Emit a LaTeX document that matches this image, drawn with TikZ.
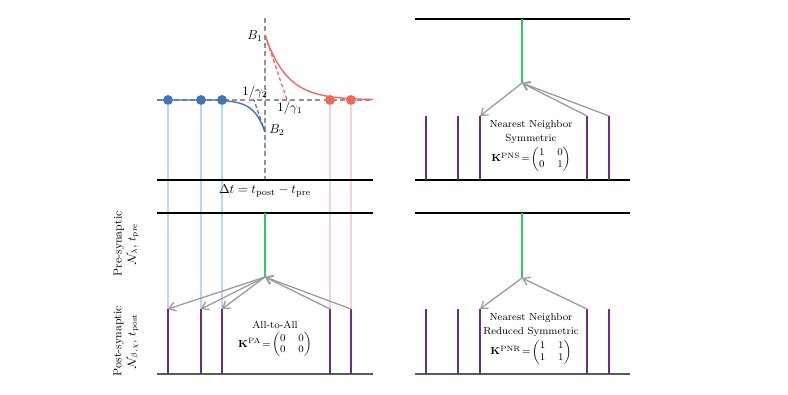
\documentclass[tikz,border=0pt]{standalone}
\usepackage{amsmath}
\usetikzlibrary{arrows.meta}
\definecolor{dotblue}{HTML}{3F74B5}
\definecolor{dotred}{HTML}{F2675C}
\definecolor{lblue}{HTML}{BCD6EF}
\definecolor{lpink}{HTML}{F8D0DA}
\definecolor{spk}{HTML}{6E2C80}
\definecolor{grn}{HTML}{2FCB5A}
\definecolor{arr}{HTML}{9A9A9A}
\definecolor{dgray}{HTML}{939393}
\newcommand{\smallmat}[4]{{\def\arraystretch{0.95}\begin{pmatrix}#1&#2\\#3&#4\end{pmatrix}}}
\begin{document}
\begin{tikzpicture}[x=0.78pt,y=-0.78pt,
  axisline/.style={black,line width=0.9pt},
  grayline/.style={black!65,line width=0.9pt},
  dashgray/.style={dgray,line width=0.9pt,dash pattern=on 4pt off 2.5pt},
  lbl/.style={lblue,line width=1pt},
  lpk/.style={lpink,line width=1pt},
  spike/.style={spk,line width=1.3pt},
  greenline/.style={grn,line width=1.3pt},
  arrowline/.style={arr,line width=1pt,-{Straight Barb[length=5pt,width=7pt]}},
  bdot/.style={circle,fill=dotblue,inner sep=0pt,minimum size=7.5pt},
  rdot/.style={circle,fill=dotred,inner sep=0pt,minimum size=7.5pt},
  boxtext/.style={font=\footnotesize,align=center,inner sep=1pt},
  sidelabel/.style={font=\small,align=center,rotate=90,inner sep=1pt}]
\useasboundingbox (0,0) rectangle (788,394);

% ---------------- top-left plot ----------------
\draw[dashgray] (157,100) -- (373,100);
\draw[dashgray] (265,18) -- (265,180);

% coordinates
\foreach \n/\x in {1/168,2/201,3/222,4/330,5/351}{
  \coordinate (ls\n) at (\x,309);
  \coordinate (lb\n) at (\x,374);
}
\foreach \n/\x in {1/426,2/458,3/480,4/587,5/609}{
  \coordinate (ts\n) at (\x,116);
  \coordinate (tb\n) at (\x,180);
  \coordinate (bs\n) at (\x,309);
  \coordinate (bb\n) at (\x,374);
}

% dots (positions)
\node[bdot] (d1) at (168,100) {};
\node[bdot] (d2) at (201,100) {};
\node[bdot] (d3) at (222,100) {};
\node[rdot] (d4) at (330,100) {};
\node[rdot] (d5) at (351,100) {};

% faint vertical lines
\draw[lbl] (d1.center) -- (ls1);
\draw[lbl] (d2.center) -- (ls2);
\draw[lbl] (d3.center) -- (ls3);
\draw[lpk] (d4.center) -- (ls4);
\draw[lpk] (d5.center) -- (ls5);

% curves
\draw[dotblue,line width=1.1pt] (157,100) -- (222,100)
  plot[domain=222:265,samples=50] (\x,{100+32*exp((\x-265)/11)});
\draw[dotred,line width=1.1pt] plot[domain=265:373,samples=70] (\x,{100-65*exp(-(\x-265)/22)});
\draw[dotblue,line width=1pt,dash pattern=on 3pt off 2pt] (265,132) -- (254,100);
\draw[dotred,line width=1pt,dash pattern=on 3pt off 2pt] (265,35) -- (287,100);

% redraw dots on top
\node[bdot] at (d1) {};
\node[bdot] at (d2) {};
\node[bdot] at (d3) {};
\node[rdot] at (d4) {};
\node[rdot] at (d5) {};

\node (B1) at (255,36) {$B_1$};
\node (B2) at (277,130) {$B_2$};
\node (g2) at (255,92) {$1/\gamma_2$};
\node (g1) at (290,108) {$1/\gamma_1$};

\draw[axisline] (157,180) -- (373,180);
\node (dt) at (265,191) {$\Delta t = t_{\mathrm{post}} - t_{\mathrm{pre}}$};

% ---------------- bottom-left ----------------
\coordinate (lgt) at (265,213);
\coordinate (lgb) at (265,277);
\draw[axisline] (157,213) -- (373,213);
\draw[grayline] (157,374) -- (373,374);
\draw[greenline] (lgt) -- (lgb);
\foreach \n in {1,...,5}{\draw[spike] (ls\n) -- (lb\n);}
\draw[arrowline] (lgb) -- (ls1);
\draw[arrowline] (lgb) -- (ls2);
\draw[arrowline] (lgb) -- (ls3);
\draw[arrowline] (ls4) -- (lgb);
\draw[arrowline] (ls5) -- (lgb);
\node[boxtext] (pa) at (275,339) {All-to-All\\[2pt]
  $\mathbf{K}^{\mathrm{PA}}\!=\!\smallmat0000$};

\node[sidelabel] (pre) at (126,244) {Pre-synaptic\\$\mathcal{N}_{\lambda}$, $t_{\mathrm{pre}}$};
\node[sidelabel] (post) at (126,341) {Post-synaptic\\$\mathcal{N}_{\beta,\chi}$, $t_{\mathrm{post}}$};

% ---------------- top-right ----------------
\coordinate (tgt) at (522,19);
\coordinate (tgb) at (522,83);
\draw[axisline] (415,19) -- (630,19);
\draw[axisline] (415,180) -- (630,180);
\draw[greenline] (tgt) -- (tgb);
\foreach \n in {1,...,5}{\draw[spike] (ts\n) -- (tb\n);}
\draw[arrowline] (tgb) -- (ts3);
\draw[arrowline] (ts4) -- (tgb);
\draw[arrowline] (ts5) -- (tgb);
\node[boxtext] (pns) at (531,146) {Nearest Neighbor\\[1pt]Symmetric\\[2pt]
  $\mathbf{K}^{\mathrm{PNS}}\!=\!\smallmat1001$};

% ---------------- bottom-right ----------------
\coordinate (bgt) at (522,213);
\coordinate (bgb) at (522,278);
\draw[axisline] (415,213) -- (630,213);
\draw[grayline] (415,374) -- (630,374);
\draw[greenline] (bgt) -- (bgb);
\foreach \n in {1,...,5}{\draw[spike] (bs\n) -- (bb\n);}
\draw[arrowline] (bgb) -- (bs3);
\draw[arrowline] (bs4) -- (bgb);
\node[boxtext] (pnr) at (531,339) {Nearest Neighbor\\[1pt]Reduced Symmetric\\[2pt]
  $\mathbf{K}^{\mathrm{PNR}}\!=\!\smallmat1111$};
\end{tikzpicture}
\end{document}
